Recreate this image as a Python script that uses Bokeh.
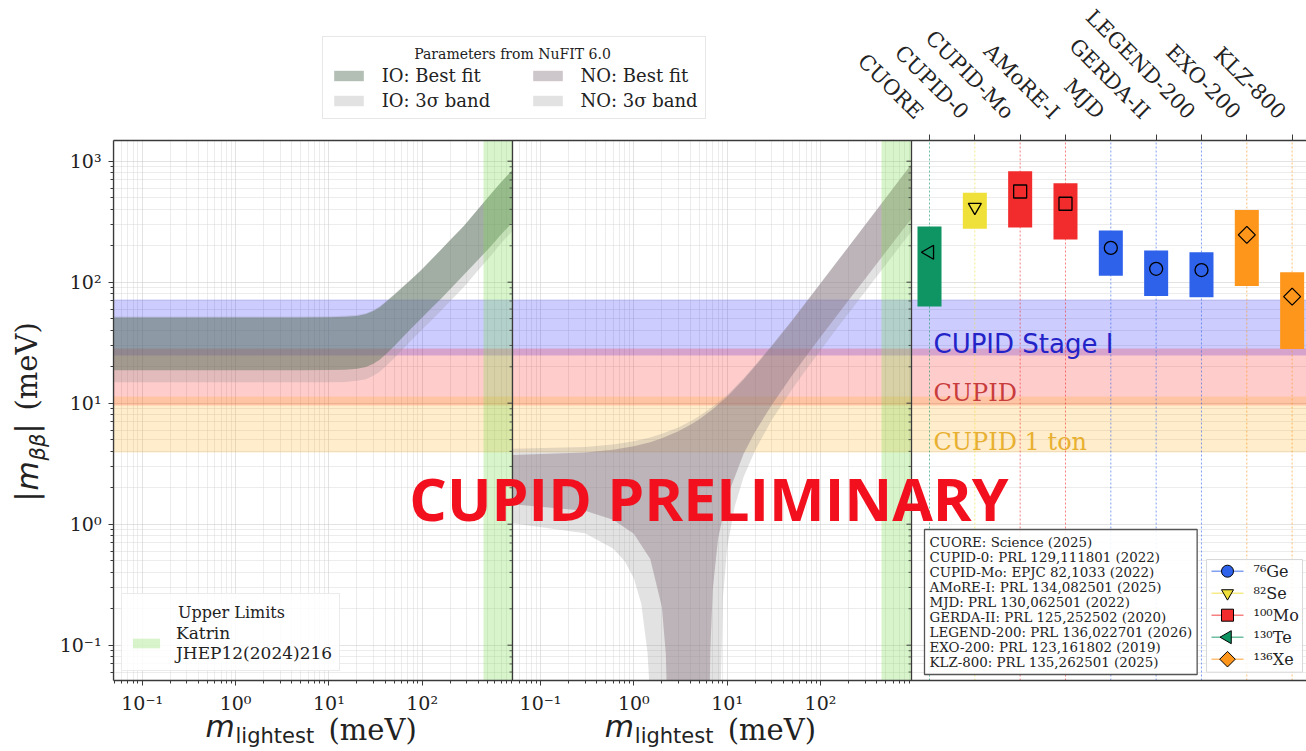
import math
from bokeh.plotting import figure
from bokeh.layouts import column
from bokeh.models import (Range1d, LogScale, LinearScale, LogAxis, LinearAxis, FixedTicker,
                          CustomJSTickFormatter, Grid, Legend, LegendItem, Label, Span,
                          ColumnDataSource)
from bokeh.embed import file_html
from bokeh.resources import INLINE

# ---------------- data ----------------
# Inverted ordering band (left panel), m_lightest in meV
io_m       = [0.05, 1, 5, 10, 15, 20, 25, 30, 35, 40, 50, 60, 80, 100, 125, 160, 200, 280, 400, 550, 700, 925]
io_best_hi = [51.0, 51.0, 51.1, 51.3, 51.7, 52.6, 54.5, 57.8, 62.2, 67.5, 78.5, 89, 109, 128, 153, 186,
              223, 292, 404, 540, 670, 844]
io_best_lo = [18.7, 18.7, 18.7, 18.8, 18.9, 19.3, 19.9, 21.2, 22.9, 25, 29.5, 34.3, 43, 51.2, 60.8, 73.5,
              88, 115, 154, 200, 248, 312]
io_3s_hi   = [52, 52, 52.1, 52.3, 52.7, 53.6, 55.5, 58.8, 63.2, 68.5, 79.5, 90, 110, 129, 154, 187,
              224, 293, 405, 541, 671, 845]
io_3s_lo   = [14.9, 14.9, 14.9, 14.9, 15.0, 15.3, 15.8, 16.9, 18.2, 19.9, 23.5, 27.3, 34.2, 40.7, 48.3, 58.4,
              70, 91.4, 126, 167, 210, 265]

# Normal ordering band (middle panel)
no_m_up    = [0.05, 0.3, 0.6, 1, 1.5, 2, 3, 4, 5, 7, 10, 15, 20, 30, 50, 70, 100, 150, 200, 300, 500, 700, 940]
no_best_hi = [3.74, 3.91, 4.12, 4.40, 4.76, 5.13, 5.85, 6.6, 7.35, 8.9, 11.3, 15.7, 20.3, 29.6, 48.5,
              68, 97.5, 147, 196, 296, 497, 698, 938]
no_3s_hi   = [4.2, 4.35, 4.55, 4.85, 5.2, 5.6, 6.3, 7.05, 7.8, 9.35, 11.7, 16.1, 20.7, 30, 48.9,
              68.5, 98, 147.5, 196.5, 296.5, 497.5, 698.5, 939]
no_best_lo_left_m  = [0.05, 0.3, 0.6, 1, 1.5, 2, 2.2, 2.3, 2.33]
no_best_lo_left    = [1.46, 1.29, 1.09, 0.833, 0.515, 0.206, 0.085, 0.024, 0.001]
no_best_lo_right_m = [6.42, 6.5, 6.6, 7, 8, 10, 15, 20, 30, 50, 70, 100, 150, 200, 300, 500, 700, 940]
no_best_lo_right   = [0.001, 0.041, 0.089, 0.285, 0.766, 1.675, 3.82, 5.83, 9.68, 17.1, 24.4, 35.2,
                      53.1, 70.9, 106.5, 177.7, 248.9, 334]
no_3s_lo_left_m  = [0.05, 0.3, 0.6, 0.8, 1.0, 1.2, 1.4, 1.45, 1.5, 1.53]
no_3s_lo_left    = [1.02, 0.84, 0.63, 0.495, 0.357, 0.221, 0.088, 0.055, 0.02, 0.001]
no_3s_lo_right_m = [8.4, 8.5, 9, 10, 12, 15, 20, 30, 50, 70, 100, 150, 200, 300, 500, 700, 940]
no_3s_lo_right   = [0.001, 0.04, 0.246, 0.639, 1.39, 2.45, 4.11, 7.25, 13.15, 18.9, 27.4, 41.6,
                    55.5, 83.4, 139.2, 195, 262]

katrin_limit = 450  # meV

band_names = ["CUPID Stage I", "CUPID", "CUPID 1 ton"]
band_low = [25, 9.6, 3.9]
band_high = [72, 28.3, 11.4]
band_colors = ["#0000ff", "#ff0000", "#ffa500"]
band_text_colors = ["#2323c8", "#c83c3c", "#e8b030"]

experiments = ["CUORE", "CUPID-0", "CUPID-Mo", "AMoRE-I", "MJD", "GERDA-II", "LEGEND-200", "EXO-200", "KLZ-800"]
exp_isotope = ["130Te", "82Se", "100Mo", "100Mo", "76Ge", "76Ge", "76Ge", "136Xe", "136Xe"]
exp_low  = [63, 276, 283, 225, 113, 77, 75, 93, 28]
exp_high = [288, 548, 827, 658, 267, 183, 177, 396, 121]
exp_mid  = [177, 417, 562, 445, 192, 129, 126, 246, 76]
exp_refs = ["CUORE: Science (2025)", "CUPID-0: PRL 129,111801 (2022)", "CUPID-Mo: EPJC 82,1033 (2022)",
            "AMoRE-I: PRL 134,082501 (2025)", "MJD: PRL 130,062501 (2022)",
            "GERDA-II: PRL 125,252502 (2020)", "LEGEND-200: PRL 136,022701 (2026)",
            "EXO-200: PRL 123,161802 (2019)", "KLZ-800: PRL 135,262501 (2025)"]

isotopes = ["76Ge", "82Se", "100Mo", "130Te", "136Xe"]
isotope_labels = ["\u2077\u2076Ge", "\u2078\u00b2Se", "\u00b9\u2070\u2070Mo", "\u00b9\u00b3\u2070Te", "\u00b9\u00b3\u2076Xe"]
isotope_colors = ["#2f62ea", "#efe03a", "#f22c2c", "#0f9463", "#ff961c"]
isotope_markers = ["circle", "inverted_triangle", "square", "triangle", "square"]
isotope_angles = [0, 0, 0, math.pi / 2, math.pi / 4]
isotope_sizes = [13, 13, 13, 14, 12]

# ---------------- layout ----------------
W, H = 1306, 751
FL, FT, FH = 113, 140, 540
FW = W - FL
FB = H - FT - FH
PB = FT + FH                    # canvas y of frame bottom
PPD_X, PPD_Y = 93.33, 121.0
T0_L, T0_M = 28.7, 427.0        # frame px of 10^-1 in left / middle panel
Y3 = 20.7                       # frame px (from top) of 10^3
PANEL_LM, PANEL_MR = 399.0, 798.0
EXP0, EXP_STEP = 816.0, 45.33


def lx(f, t0):
    return 10 ** (-1 + (f - t0) / PPD_X)


x_main = Range1d(lx(0, T0_L), lx(FW, T0_L))
x_mid = Range1d(lx(0, T0_M), lx(FW, T0_M))
x_exp = Range1d(-EXP0 / EXP_STEP, (FW - EXP0) / EXP_STEP)
y_rng = Range1d(10 ** (3 - (FH - Y3) / PPD_Y), 10 ** (3 + Y3 / PPD_Y))
edge_L = lx(PANEL_LM, T0_L)
mid_lo = lx(PANEL_LM, T0_M)
edge_M = lx(PANEL_MR, T0_M)
K = 10 ** ((T0_M - T0_L) / PPD_X)

p = figure(width=W, height=H, x_range=x_main, y_range=y_rng, x_axis_type="log", y_axis_type="log",
           x_axis_location=None, y_axis_location=None, output_backend="svg", toolbar_location=None,
           min_border_left=FL, min_border_right=0, min_border_top=FT, min_border_bottom=FB)
p.extra_x_ranges = {"mid": x_mid, "exp": x_exp}
p.extra_x_scales = {"mid": LogScale(), "exp": LinearScale()}
p.center = [c for c in p.center if not isinstance(c, Grid)]
p.outline_line_color = None
p.background_fill_color = "white"
p.border_fill_color = "white"


def dec_ticks(lo, hi):
    maj = [10.0 ** d for d in range(-3, 5) if lo <= 10.0 ** d <= hi]
    mnr = [k * 10.0 ** d for d in range(-3, 5) for k in range(2, 10) if lo <= k * 10.0 ** d <= hi]
    return maj, mnr


majL, minL = dec_ticks(x_main.start, edge_L)
majM, minM = dec_ticks(mid_lo, edge_M)
x_ticker = FixedTicker(ticks=majL + [t * K for t in majM], minor_ticks=minL + [t * K for t in minM])
majY, minY = dec_ticks(y_rng.start, y_rng.end)
y_ticker = FixedTicker(ticks=majY, minor_ticks=minY)

SUP_JS = """
const sup = {"-": "\u207b", "0": "\u2070", "1": "\u00b9", "2": "\u00b2", "3": "\u00b3", "4": "\u2074",
             "5": "\u2075", "6": "\u2076", "7": "\u2077", "8": "\u2078", "9": "\u2079"};
let l = Math.log10(tick);
if (l > cut) { l = l - off; }
const e = Math.round(l);
return "10" + String(e).split("").map((c) => sup[c]).join("");
"""


def style_axis(ax):
    ax.axis_line_color = "#3a3a3a"
    ax.axis_line_width = 1.3
    ax.major_tick_line_color = "#3a3a3a"
    ax.minor_tick_line_color = "#3a3a3a"
    ax.major_tick_out = 5
    ax.major_tick_in = 0
    ax.minor_tick_out = 3
    ax.minor_tick_in = 0
    ax.major_label_text_font = "DejaVu Serif"
    ax.major_label_text_font_size = "19px"
    ax.major_label_text_color = "#222222"


xax = LogAxis(ticker=x_ticker, formatter=CustomJSTickFormatter(args=dict(cut=3.1, off=math.log10(K)), code=SUP_JS))
style_axis(xax)
xax.major_label_standoff = 6
p.add_layout(xax, "below")

yax = LogAxis(ticker=y_ticker, formatter=CustomJSTickFormatter(args=dict(cut=99.0, off=0.0), code=SUP_JS))
style_axis(yax)
yax.major_label_standoff = 7
p.add_layout(yax, "left")

# top axis: ticks only; the rotated experiment names are drawn on the overlay canvas below
tax = LinearAxis(x_range_name="exp", ticker=FixedTicker(ticks=list(range(len(experiments))), minor_ticks=[]),
                 formatter=CustomJSTickFormatter(code="return '';"))
style_axis(tax)
tax.major_tick_out = 6
tax.major_label_standoff = 0
p.add_layout(tax, "above")

grid_kw = dict(grid_line_color="#c4c4c4", grid_line_alpha=0.6, grid_line_width=0.8,
               minor_grid_line_color="#d4d4d4", minor_grid_line_alpha=0.55, minor_grid_line_width=0.8)
p.add_layout(Grid(dimension=0, ticker=x_ticker, **grid_kw))
p.add_layout(Grid(dimension=1, ticker=y_ticker, **grid_kw))

# ---------------- horizontal sensitivity bands ----------------
p.hstrip(y0=band_low, y1=band_high, fill_color=band_colors, fill_alpha=0.2, line_color=None)

# ---------------- IO / NO bands ----------------
IO3 = dict(fill_color="#8c8c8c", fill_alpha=0.25, line_color=None)
IOB = dict(fill_color="#4e6a54", fill_alpha=0.43, line_color=None)
NO3 = dict(fill_color="#8e8a8c", fill_alpha=0.25, line_color=None)
NOB = dict(fill_color="#82717a", fill_alpha=0.4, line_color=None)
io3_x, io3_y = io_m + io_m[::-1], io_3s_hi + io_3s_lo[::-1]
iob_x, iob_y = io_m + io_m[::-1], io_best_hi + io_best_lo[::-1]
no3_x = no_m_up + no_3s_lo_right_m[::-1] + no_3s_lo_left_m[::-1]
no3_y = no_3s_hi + no_3s_lo_right[::-1] + no_3s_lo_left[::-1]
nob_x = no_m_up + no_best_lo_right_m[::-1] + no_best_lo_left_m[::-1]
nob_y = no_best_hi + no_best_lo_right[::-1] + no_best_lo_left[::-1]
p.patch(io3_x, io3_y, **IO3)
p.patch(iob_x, iob_y, **IOB)
p.patch(no3_x, no3_y, x_range_name="mid", **NO3)
p.patch(nob_x, nob_y, x_range_name="mid", **NOB)

# ---------------- KATRIN ----------------
r_kat = p.vstrip(x0=[katrin_limit], x1=[edge_L], fill_color="#7ddc50", fill_alpha=0.3, line_color=None)
p.vstrip(x0=[katrin_limit], x1=[edge_M], fill_color="#7ddc50", fill_alpha=0.3, line_color=None, x_range_name="mid")

# ---------------- internal spines ----------------
p.add_layout(Span(location=edge_L, dimension="height", line_color="#3a3a3a", line_width=1.3))
p.add_layout(Span(location=edge_M, dimension="height", line_color="#3a3a3a", line_width=1.3, x_range_name="mid"))
for xv, rn in ((edge_L, "default"), (edge_M, "mid")):
    p.ray(x=[xv] * len(majY), y=majY, length=5, length_units="screen", angle=math.pi,
          line_color="#3a3a3a", line_width=1, x_range_name=rn)
    p.ray(x=[xv] * len(minY), y=minY, length=3, length_units="screen", angle=math.pi,
          line_color="#3a3a3a", line_width=0.8, x_range_name=rn)

# ---------------- experiments ----------------
iso_idx = [isotopes.index(s) for s in exp_isotope]
exp_src = ColumnDataSource(dict(
    pos=list(range(len(experiments))), low=exp_low, high=exp_high, mid=exp_mid,
    color=[isotope_colors[i] for i in iso_idx], marker=[isotope_markers[i] for i in iso_idx],
    angle=[isotope_angles[i] for i in iso_idx], size=[isotope_sizes[i] for i in iso_idx],
    y0=[y_rng.start] * len(experiments), y1=[y_rng.end] * len(experiments)))
p.segment(x0="pos", y0="y0", x1="pos", y1="y1", line_color="color", line_alpha=0.6, line_width=1,
          line_dash="2 2", source=exp_src, x_range_name="exp")
p.vbar(x="pos", width=0.53, bottom="low", top="high", fill_color="color", line_color=None,
       source=exp_src, x_range_name="exp")
p.scatter(x="pos", y="mid", marker="marker", angle="angle", size="size", fill_color=None, line_color="black",
          line_width=1.3, source=exp_src, x_range_name="exp")


def lab(fig, text, px, py, size, font="DejaVu Serif", style="normal", color="#222222", angle=0.0,
        align="left", baseline="middle", ref=(FL, PB), **kw):
    lb = Label(x=px - ref[0], y=ref[1] - py, x_units="screen", y_units="screen", text=text,
               text_font=font, text_font_style=style, text_font_size=f"{size}px", text_color=color,
               angle=angle, text_align=align, text_baseline=baseline, level="overlay", **kw)
    fig.add_layout(lb)
    return lb


# band names
lab(p, band_names[0], 933, 343, 26, font="DejaVu Sans", color=band_text_colors[0])
lab(p, band_names[1], 933, 392, 24, color=band_text_colors[1])
lab(p, band_names[2], 933, 441, 24, color=band_text_colors[2])

# ---------------- in-frame legend (KATRIN) ----------------
leg_kat = Legend(items=[LegendItem(label="Katrin\nJHEP12(2024)216", renderers=[r_kat])],
                 location=(121 - FL, PB - 671), title=" ", title_text_font_size="15px",
                 label_text_font="DejaVu Serif", label_text_font_size="17px", label_text_color="#222222",
                 glyph_width=34, glyph_height=12, label_standoff=13, padding=7, margin=0,
                 border_line_color="#d8d8d8", background_fill_alpha=0.85)
p.add_layout(leg_kat)

lab(p, "\n".join(exp_refs), 924, 529, 13.4, baseline="top", text_line_height=1.0,
    background_fill_color="white", background_fill_alpha=0.9, border_line_color="#555555",
    border_line_width=1.3, padding=5)

# ---------------- watermark ----------------
lab(p, "CUPID PRELIMINARY", 708.5, 497, 59, font="Open Sans", style="bold", color="#f3101e", align="center")

# ================= overlay canvas for texts outside the frame =================
ov = figure(width=W, height=H, x_range=Range1d(0, W), y_range=Range1d(H, 0), output_backend="svg",
            toolbar_location=None, min_border=0, x_axis_location=None, y_axis_location=None,
            background_fill_color=None, border_fill_color=None, outline_line_color=None,
            styles={"position": "absolute", "left": "0px", "top": "0px"})
ov.center = [c for c in ov.center if not isinstance(c, Grid)]
for fig in (p, ov):
    try:
        fig.frame_align = False
    except Exception:
        pass
OVR = (0, H)

# rotated experiment names above the right panel
for i, name in enumerate(experiments):
    tick_x = FL + EXP0 + EXP_STEP * i
    lab(ov, name, tick_x - 10, 115, 21, angle=-math.pi / 4, align="right", ref=OVR)

r_iob = ov.patch(iob_x, iob_y, visible=False, **IOB)
r_io3 = ov.patch(io3_x, io3_y, visible=False, **IO3)
r_nob = ov.patch(nob_x, nob_y, visible=False, **NOB)
r_no3 = ov.patch(no3_x, no3_y, visible=False, **NO3)
leg_top = Legend(items=[LegendItem(label="IO: Best fit", renderers=[r_iob]),
                        LegendItem(label="IO: 3\u03c3 band      ", renderers=[r_io3]),
                        LegendItem(label="NO: Best fit", renderers=[r_nob]),
                        LegendItem(label="NO: 3\u03c3 band", renderers=[r_no3])],
                 ncols=2, location=(321.7, H - 119), title=" ",
                 title_text_font_size="14px", label_text_font="DejaVu Serif", label_text_font_size="18px",
                 label_text_color="#222222", glyph_width=37, glyph_height=13, label_standoff=15,
                 spacing=4, padding=7, margin=0, border_line_color="#d0d0d0", background_fill_alpha=0.0,
                 inactive_fill_alpha=0.0)
ov.add_layout(leg_top)
lab(ov, "Parameters from NuFIT 6.0", 512, 53, 14, align="center", ref=OVR)
lab(ov, "Upper Limits", 231, 612, 16, align="center", ref=OVR)

# isotope legend (drawn on the overlay so the markers keep their size)
ISO_BOX = (1206, 1302, 559, 671.7)
ISO_ROW0, ISO_DY = 570.7, 22.0
iso_rows = [ISO_ROW0 + ISO_DY * k for k in range(len(isotopes))]
ov.quad(left=[ISO_BOX[0]], right=[ISO_BOX[1]], top=[ISO_BOX[2]], bottom=[ISO_BOX[3]],
        fill_color="white", fill_alpha=0.85, line_color="#d8d8d8", line_width=1)
ov.segment(x0=[1211] * len(isotopes), x1=[1243] * len(isotopes), y0=iso_rows, y1=iso_rows,
           line_color=isotope_colors, line_alpha=0.6, line_width=1.5)
ov.scatter(x=[1227] * len(isotopes), y=iso_rows, marker=isotope_markers, angle=isotope_angles,
           size=[s - 1 for s in isotope_sizes], fill_color=isotope_colors, line_color="black", line_width=1)
for name, yy in zip(isotope_labels, iso_rows):
    lab(ov, name, 1253, yy, 16, ref=OVR)

# axis titles
for dx in (0.0, 399.3):
    lab(ov, "m", 205 + dx, 726, 30, font="DejaVu Sans", style="italic", ref=OVR)
    lab(ov, "lightest", 235 + dx, 735, 21, font="DejaVu Sans", ref=OVR)
    lab(ov, "(meV)", 328 + dx, 729, 29, ref=OVR)

R = math.pi / 2
lab(ov, "|", 26, 501, 30, font="DejaVu Sans", angle=R, ref=OVR)
lab(ov, "m", 27, 490, 30, font="DejaVu Sans", style="italic", angle=R, ref=OVR)
lab(ov, "\u03b2\u03b2", 37, 460, 21, font="DejaVu Sans", style="italic", angle=R, ref=OVR)
lab(ov, "|", 26, 433, 30, font="DejaVu Sans", angle=R, ref=OVR)
lab(ov, "(meV)", 26, 410, 29, angle=R, ref=OVR)

open("out.html", "w").write(file_html(column(p, ov), INLINE))
